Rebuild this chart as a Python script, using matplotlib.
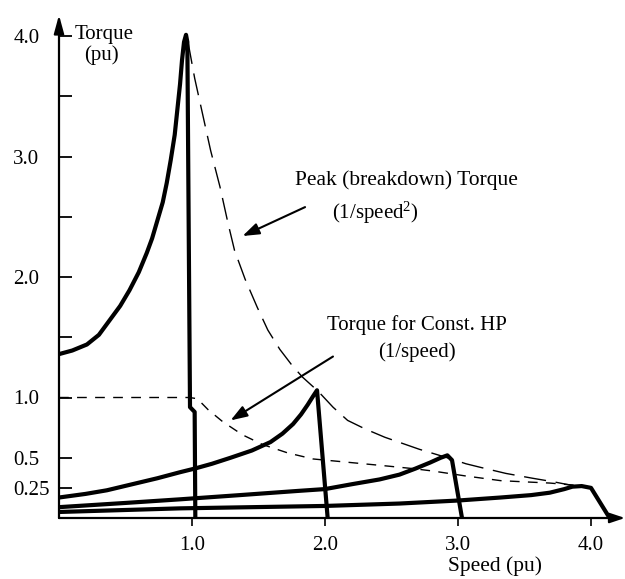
import matplotlib
matplotlib.use("Agg")
import matplotlib.pyplot as plt

plt.rcParams["font.family"] = ["Liberation Serif", "DejaVu Serif"]
plt.rcParams["mathtext.fontset"] = "custom"
plt.rcParams["mathtext.rm"] = "Liberation Serif"
plt.rcParams["mathtext.it"] = "Liberation Serif:italic"

# Torque-speed curves of the motor at base speed 1, 2, 3 and 4 pu
speed_1 = [0.0, 0.10, 0.21, 0.30, 0.38, 0.46, 0.53, 0.60, 0.66, 0.70, 0.74, 0.78,
           0.81, 0.84, 0.87, 0.89, 0.91, 0.925, 0.94, 0.955, 0.965, 0.985, 1.02, 1.025]
torque_1 = [1.36, 1.39, 1.44, 1.52, 1.64, 1.76, 1.89, 2.04, 2.20, 2.32, 2.47, 2.62,
            2.78, 2.97, 3.18, 3.39, 3.60, 3.80, 3.95, 4.01, 3.95, 0.92, 0.88, 0.0]

speed_2 = [0.0, 0.20, 0.36, 0.55, 0.74, 0.91, 1.02, 1.15, 1.29, 1.45, 1.59, 1.68,
           1.76, 1.82, 1.87, 1.91, 1.94, 2.02]
torque_2 = [0.17, 0.20, 0.23, 0.28, 0.33, 0.38, 0.41, 0.45, 0.50, 0.56, 0.63, 0.70,
            0.78, 0.86, 0.94, 1.01, 1.06, 0.0]

speed_3 = [0.0, 0.50, 0.91, 1.36, 1.80, 2.0, 2.20, 2.41, 2.56, 2.68, 2.79, 2.87,
           2.92, 2.955, 3.03]
torque_3 = [0.09, 0.125, 0.155, 0.19, 0.225, 0.24, 0.28, 0.32, 0.36, 0.41, 0.46, 0.50,
            0.52, 0.48, 0.0]

speed_4 = [0.0, 0.91, 2.0, 2.56, 3.0, 3.32, 3.55, 3.69, 3.80, 3.86, 3.93, 4.0, 4.14]
torque_4 = [0.05, 0.08, 0.10, 0.12, 0.145, 0.17, 0.19, 0.21, 0.24, 0.26, 0.265, 0.25, 0.0]

# Peak (breakdown) torque envelope, ~1/speed^2
peak_speed = [0.97, 1.02, 1.08, 1.14, 1.21, 1.27, 1.32, 1.40, 1.49, 1.57, 1.66, 1.75,
              1.83, 1.95, 2.06, 2.17, 2.30, 2.45, 2.58, 2.71, 2.83, 2.95, 3.06, 3.17,
              3.36, 3.56, 3.72, 3.86]
peak_torque = [3.95, 3.65, 3.35, 3.05, 2.75, 2.45, 2.22, 1.98, 1.75, 1.56, 1.40, 1.27,
               1.17, 1.05, 0.92, 0.81, 0.74, 0.67, 0.62, 0.57, 0.53, 0.49, 0.45, 0.42,
               0.37, 0.33, 0.30, 0.27]

# Constant-horsepower torque, ~1/speed above base speed
hp_speed = [0.0, 0.98, 1.04, 1.12, 1.23, 1.38, 1.53, 1.72, 1.91, 2.10, 2.29, 2.48,
            2.66, 2.81, 3.05, 3.32, 3.50, 3.69, 3.90]
hp_torque = [1.0, 1.0, 0.99, 0.90, 0.80, 0.69, 0.61, 0.54, 0.49, 0.47, 0.45, 0.43,
             0.41, 0.39, 0.35, 0.31, 0.30, 0.29, 0.27]

y_major = [0.25, 0.5, 1.0, 2.0, 3.0, 4.0]
y_major_labels = ["0.25", "0.5", "1.0", "2.0", "3.0", "4.0"]
y_minor = [1.5, 2.5, 3.5]
x_major = [1.0, 2.0, 3.0, 4.0]
x_major_labels = ["1.0", "2.0", "3.0", "4.0"]

FS = 15

fig = plt.figure(figsize=(6.25, 5.79), dpi=100)
ax = fig.add_axes([59 / 625, 61 / 579, 566 / 625, 503 / 579])
ax.set_xlim(0, 566 / 133)
ax.set_ylim(0, 503 / 120.5)

for s in ["top", "right", "left", "bottom"]:
    ax.spines[s].set_visible(False)

# axes drawn as arrows
ax.annotate("", xy=(0, 1.0), xytext=(0, 0), xycoords="axes fraction",
            arrowprops=dict(arrowstyle="-|>,head_length=1.1,head_width=0.3",
                            lw=1.6, color="black", shrinkA=0, shrinkB=0,
                            mutation_scale=10), annotation_clip=False)
ax.annotate("", xy=(1.0, 0), xytext=(0, 0), xycoords="axes fraction",
            arrowprops=dict(arrowstyle="-|>,head_length=0.9,head_width=0.3",
                            lw=1.6, color="black", shrinkA=0, shrinkB=0,
                            mutation_scale=10), annotation_clip=False)

# ticks
ax.set_yticks(y_major, y_major_labels)
ax.set_yticks(y_minor, minor=True)
ax.tick_params(axis="y", which="both", direction="in", length=9, width=1.3,
               pad=33, labelsize=FS)
for lbl in ax.get_yticklabels():
    lbl.set_horizontalalignment("left")
ax.set_xticks(x_major, x_major_labels)
ax.tick_params(axis="x", which="both", direction="out", length=6, width=1.2,
               pad=7, labelsize=FS)

# motor curves
for xs, ys in [(speed_1, torque_1), (speed_2, torque_2),
               (speed_3, torque_3), (speed_4, torque_4)]:
    ax.plot(xs, ys, color="black", lw=3.0, solid_joinstyle="round",
            solid_capstyle="butt", clip_on=False)

ax.plot(peak_speed, peak_torque, color="black", lw=1.0, dashes=(16, 7))
ax.plot(hp_speed, hp_torque, color="black", lw=1.0, dashes=(7, 6))

# labels
ax.text(0.12, 4.01, "Torque", fontsize=FS, ha="left", va="center")
ax.text(0.32, 3.84, "(pu)", fontsize=FS, ha="center", va="center")

ax.text(2.61, 2.80, "Peak (breakdown) Torque", fontsize=FS + 0.5, ha="center", va="center")
ax.text(2.38, 2.53, "(1/speed$^{\\mathregular{2}}$)", fontsize=FS, ha="center", va="center")
ax.annotate("", xy=(1.38, 2.34), xytext=(1.85, 2.58),
            arrowprops=dict(arrowstyle="-|>,head_length=1.0,head_width=0.35",
                            lw=1.5, color="black", shrinkA=0, shrinkB=0,
                            mutation_scale=10))

ax.text(2.69, 1.60, "Torque for Const. HP", fontsize=FS, ha="center", va="center")
ax.text(2.69, 1.38, "(1/speed)", fontsize=FS, ha="center", va="center")
ax.annotate("", xy=(1.29, 0.81), xytext=(2.06, 1.34),
            arrowprops=dict(arrowstyle="-|>,head_length=1.0,head_width=0.35",
                            lw=1.5, color="black", shrinkA=0, shrinkB=0,
                            mutation_scale=10))

fig.text(495 / 625, 1 - 566 / 579, "Speed (pu)", fontsize=FS + 0.5, ha="center", va="center")

fig.savefig("out.png", dpi=100)
